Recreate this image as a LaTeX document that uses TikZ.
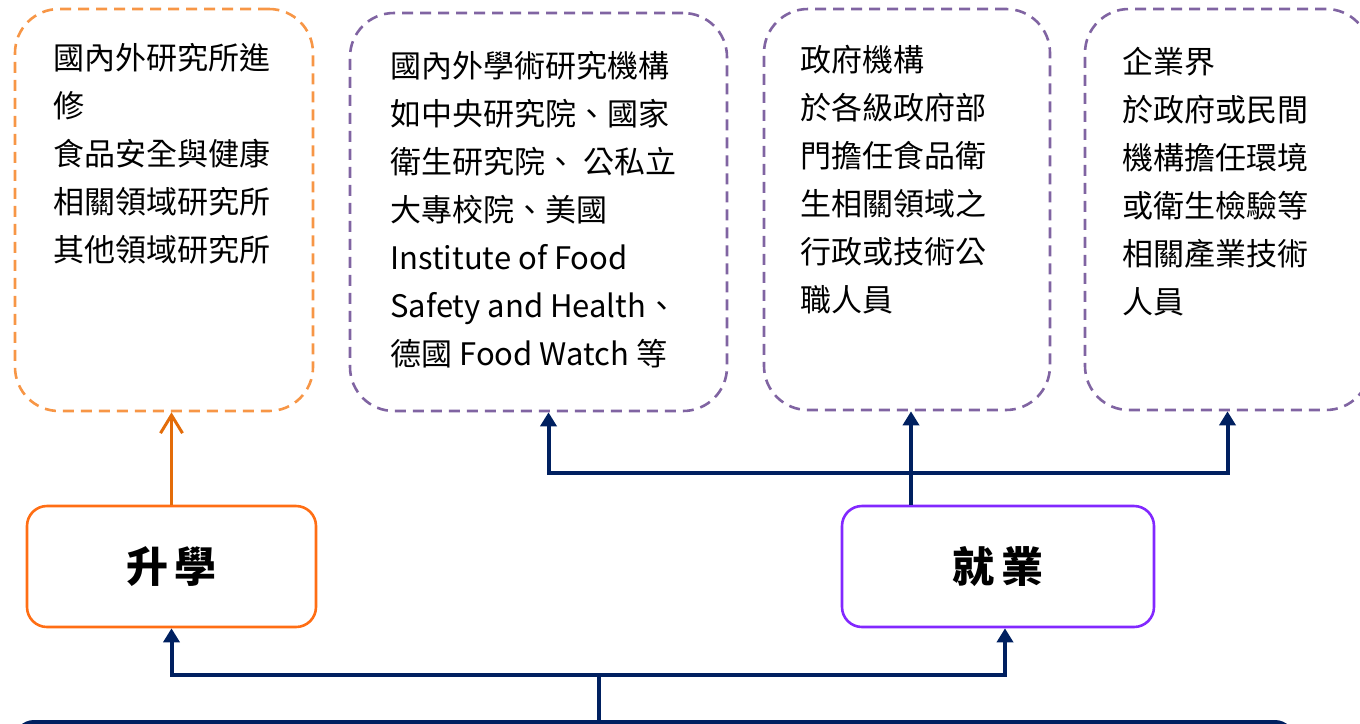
\documentclass[tikz,border=0pt]{standalone}
\usepackage{fontspec}
\setmainfont{Noto Sans CJK TC}
\usetikzlibrary{arrows.meta}

\definecolor{navyline}{HTML}{002060}
\definecolor{dashorange}{HTML}{F79646}
\definecolor{dashpurple}{HTML}{8064A2}
\definecolor{boxorange}{RGB}{255,110,20}
\definecolor{arroworange}{HTML}{E36C09}
\definecolor{boxviolet}{RGB}{130,40,255}

\tikzset{
  dashbox/.style={draw=#1, dash pattern=on 5.5pt off 3.5pt, line width=1.3pt, rounded corners=22pt, inner sep=0pt},
  titlebox/.style={draw=#1, line width=1.3pt, rounded corners=10pt, inner sep=0pt, font=\fontsize{21}{24}\selectfont\bfseries},
  listtext/.style={anchor=north west, align=left, inner sep=0pt, font=\fontsize{15.5}{24}\selectfont},
  navyarrow/.style={draw=navyline, line width=2pt, -{Triangle[length=7pt,width=8pt]}},
  orangearrow/.style={draw=arroworange, line width=1.5pt, -{Straight Barb[length=9pt,width=11pt]}}
}

\begin{document}
\begin{tikzpicture}[x=0.5pt, y=-0.5pt]
  \useasboundingbox (0,0) rectangle (1360,723);

  % destination boxes
  \node[dashbox=dashorange, minimum width=149pt, minimum height=201pt] (furtherbox) at (164,210) {};
  \node[dashbox=dashpurple, minimum width=188.5pt, minimum height=199pt] (academicbox) at (538.5,212) {};
  \node[dashbox=dashpurple, minimum width=143pt, minimum height=200.5pt] (govbox) at (907,209.5) {};
  \node[dashbox=dashpurple, minimum width=142.5pt, minimum height=200.5pt] (industrybox) at (1227.5,209.5) {};

  \node[listtext] (furthertext) at (53,43) {國內外研究所進\\修\\食品安全與健康\\相關領域研究所\\其他領域研究所};
  \node[listtext] (academictext) at (390,51) {國內外學術研究機構\\如中央研究院、國家\\衛生研究院、 公私立\\大專校院、美國\\Institute of Food\\Safety and Health、\\德國 Food Watch 等};
  \node[listtext] (govtext) at (800,45) {政府機構\\於各級政府部\\門擔任食品衛\\生相關領域之\\行政或技術公\\職人員};
  \node[listtext] (industrytext) at (1122,47) {企業界\\於政府或民間\\機構擔任環境\\或衛生檢驗等\\相關產業技術\\人員};

  % paths
  \node[titlebox=boxorange, minimum width=144.5pt, minimum height=60.5pt] (gradbox) at (171.5,566.5) {升\,學};
  \node[titlebox=boxviolet, minimum width=156pt, minimum height=60.5pt] (jobbox) at (998,566.5) {就\,業};
  \node[fill=navyline, rounded corners=10pt, minimum width=640.5pt, minimum height=50pt, inner sep=0pt] (deptbar) at (654.5,770) {};

  \coordinate (jobsplit) at (911,473);
  \coordinate (deptsplit) at (599,675);

  \draw[orangearrow] (gradbox.north) -- (gradbox.north |- furtherbox.south);
  \draw[navyarrow] (jobsplit |- jobbox.north) -- (jobsplit |- govbox.south);
  \draw[navyarrow] (jobsplit) -| ([xshift=5pt]academicbox.south);
  \draw[navyarrow] (jobsplit) -| (industrybox.south);

  \draw[navyline, line width=2pt] (deptbar.north -| deptsplit) -- (deptsplit);
  \draw[navyarrow] (deptsplit) -| (gradbox.south);
  \draw[navyarrow] (deptsplit) -| ([xshift=3.5pt]jobbox.south);
\end{tikzpicture}
\end{document}
